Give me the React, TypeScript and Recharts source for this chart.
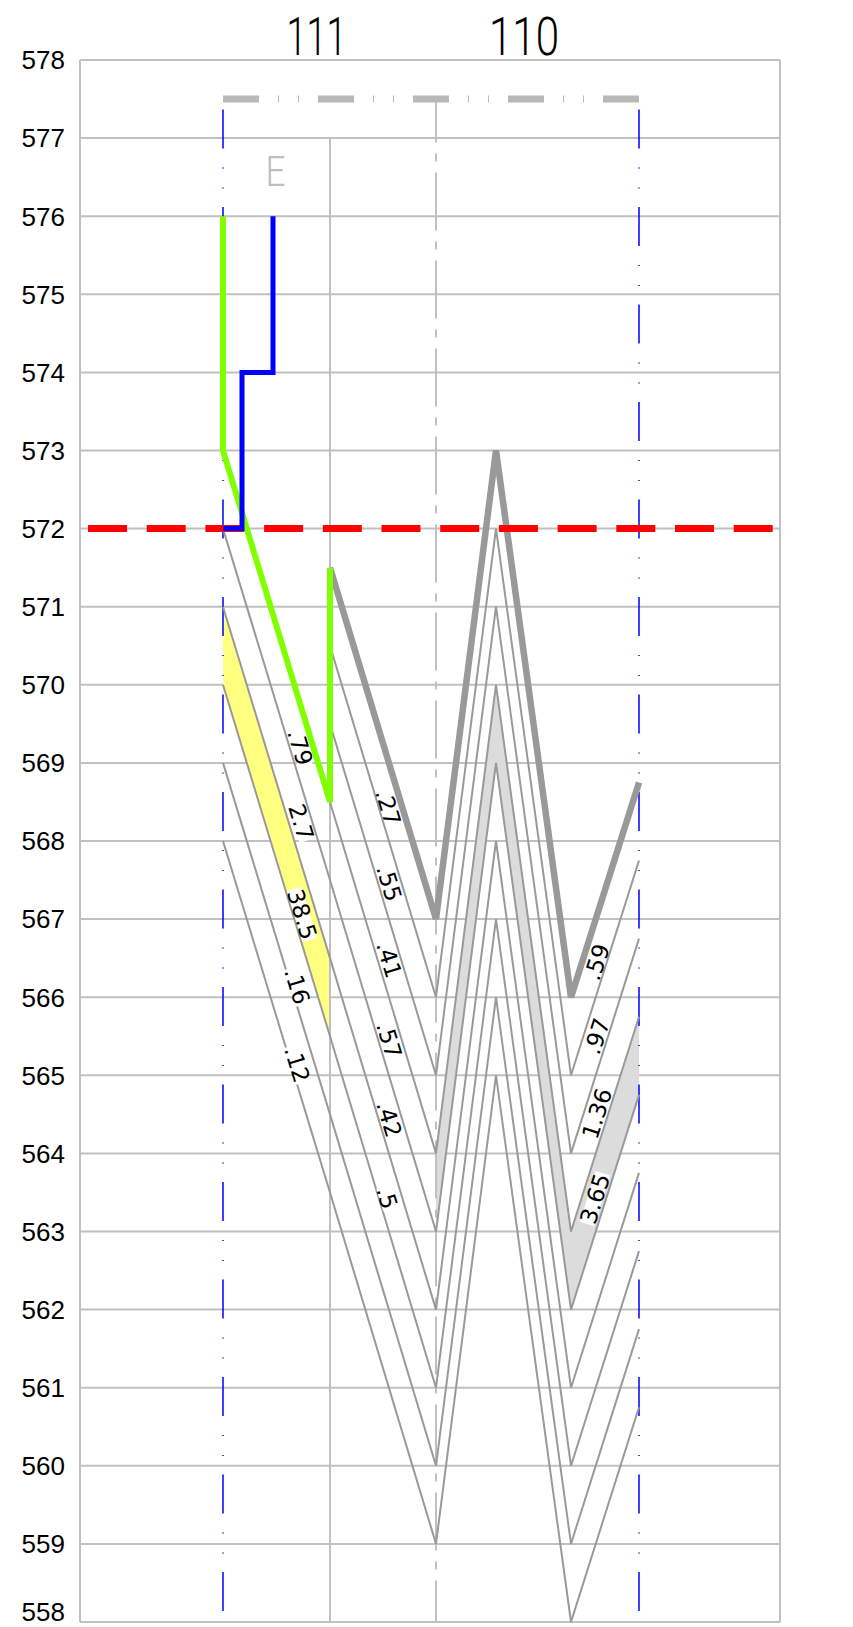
import React from "react";
import { ComposedChart, Line, Area, Scatter, XAxis, YAxis, CartesianGrid } from "recharts";

// horizontal stations along the section (distance units)
const STATIONS = [143, 250, 356, 416, 491, 559];
const ELEVATIONS = [558, 559, 560, 561, 562, 563, 564, 565, 566, 567, 568, 569, 570, 571, 572, 573, 574, 575, 576, 577, 578];
const HEADERS = ["111", "110"];
const HEADER_X = [236.5, 444];

// bed contacts starting at hole 111 (elevations at each station)
const BED_572 = [572, 567.5, 563, 569, 562, 564.75];
const BED_571 = [571, 566.5, 562, 568, 561, 563.75];
const BED_570 = [570, 565.5, 561, 567, 560, 562.75];
const BED_569 = [569, 564.5, 560, 566, 559, 561.75];
const BED_568 = [568, 563.5, 559, 565, 558, 560.75];
// contacts starting at the second station
const BED_570_5 = [570.5, 566, 572, 565, 567.75];
const BED_569_5 = [569.5, 565, 571, 564, 566.75];
const BED_568_5 = [568.5, 564, 570, 563, 565.75];
const TOP_ROCK = [571.5, 567, 573, 566, 568.75];

// ore zones, [low, high] per station
const YELLOW_ZONE = [[570, 571], [565.5, 566.5]];
const GREY_ZONE = [[563, 564], [569, 570], [562, 563], [564.75, 565.75]];

const GREEN_X = [143, 143, 250, 250];
const GREEN_Y = [576, 573, 568.5, 571.5];
const BLUE_X = [143, 162, 162, 193, 193];
const BLUE_Y = [572, 572, 574, 574, 576];
const WATER_LEVEL = 572;

const GRADES_WEST = [
  { x: 220, y: 569.2, text: ".79" },
  { x: 221, y: 568.24, text: "2.7" },
  { x: 222, y: 567.06, text: "38.5" },
  { x: 217, y: 566.14, text: ".16" },
  { x: 217, y: 565.14, text: ".12" },
  { x: 308, y: 568.43, text: ".27" },
  { x: 309, y: 567.46, text: ".55" },
  { x: 309, y: 566.48, text: ".41" },
  { x: 309, y: 565.45, text: ".57" },
  { x: 309, y: 564.44, text: ".42" },
  { x: 307, y: 563.43, text: ".5" },
];
const GRADES_EAST = [
  { x: 517, y: 566.45, text: ".59" },
  { x: 517, y: 565.5, text: ".97" },
  { x: 517, y: 564.51, text: "1.36" },
  { x: 515, y: 563.42, text: "3.65" },
];
const ZONE_MARK = [{ x: 195.5, y: 576.57, text: "E" }];

const at = (ys: number[], from = 0) => ys.map((y, i) => ({ x: STATIONS[from + i], y }));
const band = (zone: number[][], from: number) => zone.map((b, i) => ({ x: STATIONS[from + i], band: b }));
const path = (xs: number[], ys: number[]) => xs.map((x, i) => ({ x, y: ys[i] }));
const vline = (x: number, top: number) => [{ x, y: top }, { x, y: 558 }];

const GRADE_FONT = 23;
const textWidth = (s: string) =>
  s.split("").reduce((w, c) => w + (c === "." ? 0.318 : 0.636) * GRADE_FONT, 0);

// grade value with a white backing so it reads over the ore fill
const gradeTag = (angle: number) => (props: any) => {
  const { cx, cy, payload } = props;
  const w = textWidth(payload.text) + 2;
  return (
    <g transform={`translate(${cx},${cy}) rotate(${angle})`}>
      <rect x={-w / 2} y={-7.5} width={w} height={15} fill="#ffffff" />
      <text
        textAnchor="middle"
        dominantBaseline="central"
        fontSize={GRADE_FONT}
        fontFamily="DejaVu Sans, sans-serif"
        fill="#000"
      >
        {payload.text}
      </text>
    </g>
  );
};

const zoneMark = (props: any) => (
  <text
    x={props.cx}
    y={props.cy}
    textAnchor="middle"
    dominantBaseline="central"
    fontSize={42}
    fontWeight={300}
    fontFamily="Roboto, sans-serif"
    fill="#bdbdbd"
    textLength={20}
    lengthAdjust="spacingAndGlyphs"
  >
    {props.payload.text}
  </text>
);

const HeaderTick = (props: any) => {
  const i = HEADER_X.indexOf(props.payload.value);
  const label = HEADERS[i];
  if (!label) return null;
  return (
    <text
      x={props.x}
      y={55}
      textAnchor="middle"
      fontSize={53}
      fontWeight={300}
      fontFamily="Roboto, sans-serif"
      fill="#000"
      textLength={label === "111" ? 60 : 70}
      lengthAdjust="spacingAndGlyphs"
    >
      {label}
    </text>
  );
};

// elevation labels; the lowest one is lifted so it stays on the page
const ElevationTick = (side: "left" | "right") => (props: any) => {
  const y = Math.min(props.y, 1612);
  return (
    <text
      x={side === "left" ? 65 : 797}
      y={y}
      dy="0.36em"
      textAnchor={side === "left" ? "end" : "start"}
      fontSize={26}
      fontFamily="Liberation Sans, Arial, sans-serif"
      fill="#000"
    >
      {props.payload.value}
    </text>
  );
};

const thin = { stroke: "#999999", strokeWidth: 2, dot: false, activeDot: false, isAnimationActive: false, type: "linear" as const };

export default function App() {
  return (
    <div style={{ position: "absolute", left: 0, top: 0, background: "#fff" }}>
      <ComposedChart width={853} height={1627} margin={{ top: 0, right: 0, bottom: 5, left: 0 }}>
        <CartesianGrid vertical={false} stroke="#c0c0c0" strokeWidth={2} />
        <XAxis dataKey="x" type="number" domain={[0, 700]} hide />
        <XAxis
          xAxisId="top"
          dataKey="x"
          orientation="top"
          type="number"
          domain={[0, 700]}
          ticks={HEADER_X}
          interval={0}
          height={60}
          axisLine={false}
          tickLine={false}
          tick={HeaderTick}
        />
        <YAxis
          dataKey="y"
          type="number"
          domain={[558, 578]}
          ticks={ELEVATIONS}
          interval={0}
          width={80}
          axisLine={false}
          tickLine={false}
          tick={ElevationTick("left")}
        />
        <YAxis
          yAxisId="r"
          orientation="right"
          type="number"
          domain={[558, 578]}
          ticks={ELEVATIONS}
          interval={0}
          width={73}
          axisLine={false}
          tickLine={false}
          tick={ElevationTick("right")}
        />

        {/* frame sides */}
        <Line data={vline(0, 578)} dataKey="y" {...thin} stroke="#c0c0c0" />
        <Line data={vline(700, 578)} dataKey="y" {...thin} stroke="#c0c0c0" />

        <Area data={band(YELLOW_ZONE, 0)} dataKey="band" type="linear" fill="#ffff80" fillOpacity={1} stroke="none" isAnimationActive={false} />
        <Area data={band(GREY_ZONE, 2)} dataKey="band" type="linear" fill="#dcdcdc" fillOpacity={1} stroke="none" isAnimationActive={false} />

        {/* section verticals */}
        <Line data={vline(STATIONS[1], 577)} dataKey="y" {...thin} stroke="#c0c0c0" />
        <Line data={vline(STATIONS[2], 577.5)} dataKey="y" {...thin} stroke="#c0c0c0" strokeDasharray="58 11 8 11" strokeDashoffset={14.5} />
        <Line data={vline(STATIONS[0], 577.5)} dataKey="y" {...thin} stroke="#0000ff" strokeWidth={1.5} strokeDasharray="39 19 1 19 1 18.5" strokeDashoffset={87} />
        <Line data={vline(STATIONS[5], 577.5)} dataKey="y" {...thin} stroke="#0000ff" strokeWidth={1.5} strokeDasharray="39 19 1 19 1 18.5" strokeDashoffset={87} />
        <Line
          data={[{ x: STATIONS[0], y: 577.5 }, { x: STATIONS[5], y: 577.5 }]}
          dataKey="y"
          {...thin}
          stroke="#b8b8b8"
          strokeWidth={7}
          strokeDasharray="36 19 1 19 1 19"
        />

        <Line data={at(BED_572)} dataKey="y" {...thin} />
        <Line data={at(BED_571)} dataKey="y" {...thin} />
        <Line data={at(BED_570)} dataKey="y" {...thin} />
        <Line data={at(BED_569)} dataKey="y" {...thin} />
        <Line data={at(BED_568)} dataKey="y" {...thin} />
        <Line data={at(BED_570_5, 1)} dataKey="y" {...thin} />
        <Line data={at(BED_569_5, 1)} dataKey="y" {...thin} />
        <Line data={at(BED_568_5, 1)} dataKey="y" {...thin} />
        <Line data={at(TOP_ROCK, 1)} dataKey="y" {...thin} strokeWidth={6.5} />

        <Line
          xAxisId="top"
          data={[{ x: 0, y: WATER_LEVEL }, { x: 700, y: WATER_LEVEL }]}
          dataKey="y"
          {...thin}
          stroke="#ff0000"
          strokeWidth={7}
          strokeDasharray="39 19.7"
          strokeDashoffset={50.7}
        />
        <Line data={path(GREEN_X, GREEN_Y)} dataKey="y" {...thin} stroke="#80ff00" strokeWidth={6} />
        <Line data={path(BLUE_X, BLUE_Y)} dataKey="y" {...thin} stroke="#0000ff" strokeWidth={5} />

        <Scatter data={GRADES_WEST} shape={gradeTag(73)} isAnimationActive={false} />
        <Scatter data={GRADES_EAST} shape={gradeTag(-72.4)} isAnimationActive={false} />
        <Scatter data={ZONE_MARK} shape={zoneMark} isAnimationActive={false} />
      </ComposedChart>
    </div>
  );
}
